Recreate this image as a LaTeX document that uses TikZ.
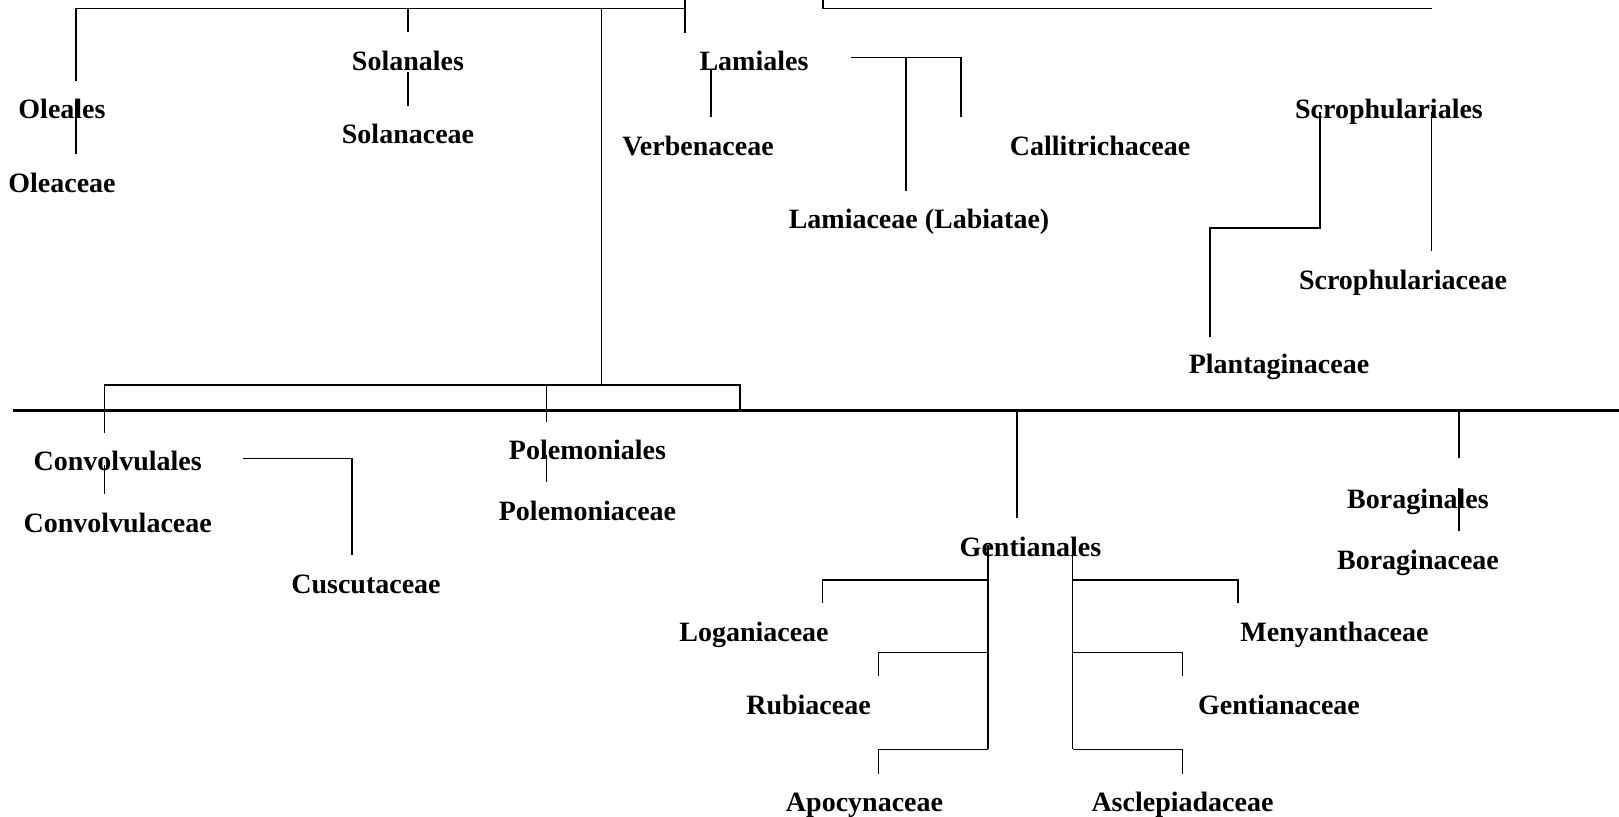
\documentclass[tikz,border=0pt]{standalone}
\usepackage{fontspec}
\setmainfont{Liberation Serif}
\begin{document}
\begin{tikzpicture}[x=0.5pt,y=-0.5pt,
  taxon/.style={anchor=base, font=\fontsize{14}{16}\selectfont\bfseries, inner sep=0pt},
  link/.style={line width=0.7pt, line join=miter},
  axis/.style={line width=1.5pt}]
\useasboundingbox (0,0) rectangle (1619,817);

% ---- taxa ----
\node[taxon] (oleales)   at (62,118.5)  {Oleales};
\node[taxon] (oleaceae)  at (62,192.5)  {Oleaceae};
\node[taxon] (solanales) at (408,70.5)  {Solanales};
\node[taxon] (solanaceae) at (408,143.5) {Solanaceae};
\node[taxon] (lamiales)  at (754,70.5)  {Lamiales};
\node[taxon] (verben)    at (698,155.5) {Verbenaceae};
\node[taxon] (callit)    at (1100,155.5) {Callitrichaceae};
\node[taxon] (lamiac)    at (919,228.5) {Lamiaceae (Labiatae)};
\node[taxon] (scrophs)   at (1389,118.5) {Scrophulariales};
\node[taxon] (scrophc)   at (1403,289.5) {Scrophulariaceae};
\node[taxon] (plantag)   at (1279,374)  {Plantaginaceae};
\node[taxon] (convs)     at (117.7,471) {Convolvulales};
\node[taxon] (convc)     at (117.7,532.5) {Convolvulaceae};
\node[taxon] (cuscut)    at (366,593.5) {Cuscutaceae};
\node[taxon] (polems)    at (587.5,459.5) {Polemoniales};
\node[taxon] (polemc)    at (587.5,520.5) {Polemoniaceae};
\node[taxon] (gents)     at (1030.5,556.5) {Gentianales};
\node[taxon] (borags)    at (1418,508.5) {Boraginales};
\node[taxon] (boragc)    at (1418,569.5) {Boraginaceae};
\node[taxon] (logan)     at (754,641.5) {Loganiaceae};
\node[taxon] (rubia)     at (808.5,714.5) {Rubiaceae};
\node[taxon] (apocy)     at (864.5,811.5) {Apocynaceae};
\node[taxon] (menya)     at (1334.5,641.5) {Menyanthaceae};
\node[taxon] (gentc)     at (1279,714.5) {Gentianaceae};
\node[taxon] (ascle)     at (1182.5,811.5) {Asclepiadaceae};

% ---- junction points ----
\coordinate (topin)   at (685,0);
\coordinate (topend)  at (685,33);
\coordinate (oleup)   at (76,81);
\coordinate (solup)   at (408,32);
\coordinate (stem)    at (601.5,8.5);
\coordinate (stembot) at (601.5,385);
\coordinate (rtin)    at (823,0);
\coordinate (rtend)   at (1432,8.5);
\coordinate (axisL)   at (13,411);
\coordinate (axisR)   at (1619,411);

% ---- upper tree ----
\draw[link] (oleup) |- (topin |- stem) -- (topin);
\draw[link] (topin |- stem) -- (topend);
\draw[link] (solup) -- (solup |- stem);
\draw[link] (stem) -- (stembot);
\draw[link] (rtin) |- (rtend);

\draw[link] (76,100) -- (76,154);
\draw[link] (408,72) -- (408,106);
\draw[link] (711,70) -- (711,117);
\draw[link] (851,57.5) -| (961,117);
\draw[link] (906,57.5) -- (906,191);
\draw[link] (1431.5,112) -- (1431.5,251);
\draw[link] (1320,112) |- (1210,228) -- (1210,337);

% ---- dividing axis and lower bracket ----
\draw[axis] (axisL) -- (axisR);
\draw[link] (104.6,433) |- (740,385) |- (1459,409.5) -- (1459,458);
\draw[link] (546.5,385) -- (546.5,422);
\draw[link] (1017,411) -- (1017,518);

% ---- lower tree ----
\draw[link] (104.6,465) -- (104.6,494);
\draw[link] (243,458.3) -| (352,555);
\draw[link] (546.5,455) -- (546.5,482);
\draw[link] (1459,488) -- (1459,531);

% Gentianales families
\draw[link] (988,545) -- (988,749.3);
\draw[link] (988,580) -| (822.5,603.5);
\draw[link] (988,652.7) -| (878.7,676);
\draw[link] (988,749.3) -| (878.7,774);
\draw[link] (1072.5,545) -- (1072.5,749.3);
\draw[link] (1072.5,580) -| (1238,603.5);
\draw[link] (1072.5,652.7) -| (1182.5,676);
\draw[link] (1072.5,749.3) -| (1182.5,774);
\end{tikzpicture}
\end{document}
